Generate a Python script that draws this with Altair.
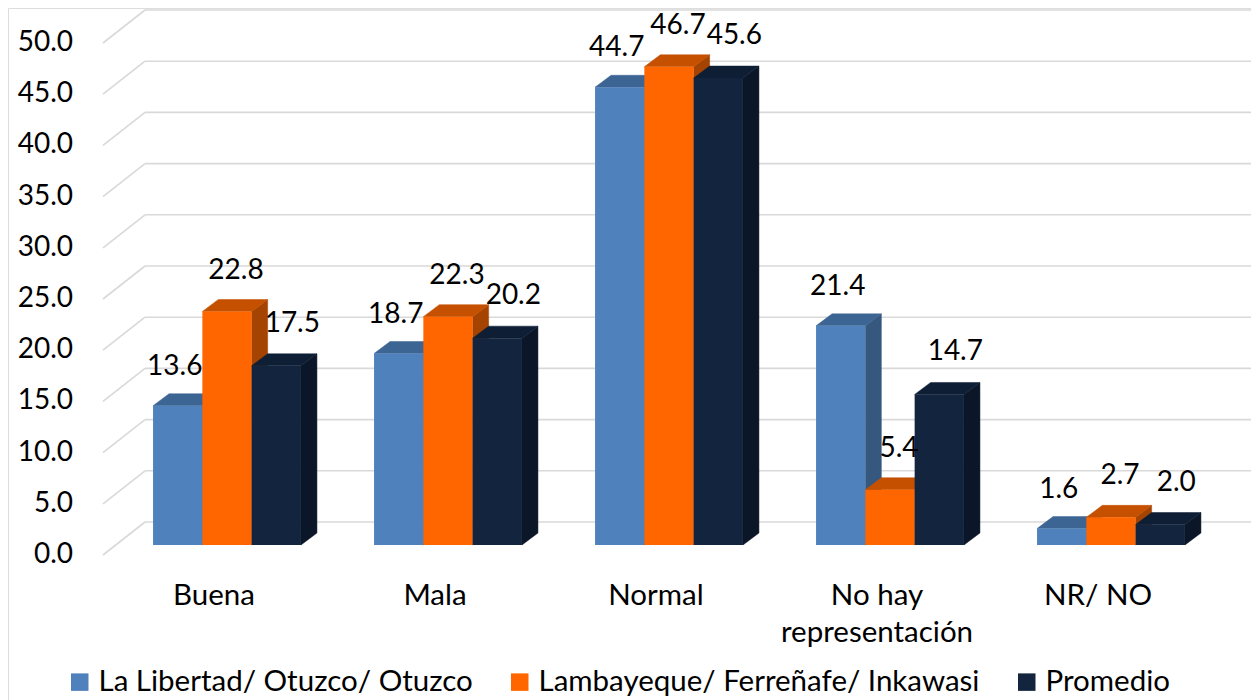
import altair as alt
import pandas as pd

# ---------------- data ----------------
categories = ["Buena", "Mala", "Normal", "No hay\nrepresentación", "NR/ NO"]
series = ["La Libertad/ Otuzco/ Otuzco", "Lambayeque/ Ferreñafe/ Inkawasi", "Promedio"]
la_libertad = [13.6, 18.7, 44.7, 21.4, 1.6]
lambayeque = [22.8, 22.3, 46.7, 5.4, 2.7]
promedio = [17.5, 20.2, 45.6, 14.7, 2.0]
y_ticks = [0, 5, 10, 15, 20, 25, 30, 35, 40, 45, 50]

values = [la_libertad, lambayeque, promedio]

front_colors = ["#4F81BD", "#FF6600", "#12243E"]
top_colors = ["#3D6594", "#C55000", "#0E1E34"]
side_colors = ["#36587F", "#A54300", "#0B1628"]

FONT = "Lato"
FS_NUM = 28
FS_TXT = 29.5

# ---------------- geometry (pixels -> scale units) ----------------
W, H = 1243, 692
PX_PER_VAL = 10.24
PX_PER_SLOT = 221.0
ZERO_Y = 545 - 8          # plot-relative pixel row of value 0 (bar plane)
GROUP0_X = 227 - 8        # plot-relative pixel column of first group centre

x_lo = -GROUP0_X / PX_PER_SLOT
x_hi = (W - GROUP0_X) / PX_PER_SLOT
y_hi = ZERO_Y / PX_PER_VAL
y_lo = (ZERO_Y - H) / PX_PER_VAL


def px_x(p):
    return p / PX_PER_SLOT


def px_y(p):
    return p / PX_PER_VAL


BAR_W = px_x(49.3)
DX = px_x(16)
DY = px_y(12)

GRID_BACK_DY = px_y(23)
GRID_FRONT_DY = px_y(-10)
GRID_BACK_X0 = px_x(145 - 227)
GRID_BACK_X1 = px_x(1253 - 227)
GRID_FRONT_X = px_x(103 - 227)
TICK_X = px_x(73 - 227)
CAT_DX = px_x(-13)
CAT_Y = px_y(545 - 605)
LABEL_OFF = [(px_x(-3), px_y(39)), (px_x(9), px_y(41)), (px_x(16), px_y(42))]

xs = alt.Scale(domain=[x_lo, x_hi], nice=False, zero=False)
ys = alt.Scale(domain=[y_lo, y_hi], nice=False, zero=False)


def X(f):
    return alt.X(f, type="quantitative", scale=xs, axis=None)


def Y(f):
    return alt.Y(f, type="quantitative", scale=ys, axis=None)


# ---------------- tables ----------------
fronts, tops, sides, labels = [], [], [], []
for j, s in enumerate(series):
    for i, c in enumerate(categories):
        v = values[j][i]
        x0 = i - 1.5 * BAR_W + j * BAR_W
        x1 = x0 + BAR_W
        bid = f"{j}-{i}"
        fronts.append(dict(series=s, j=j, x0=x0, x1=x1, y0=0.0, y1=v))
        tops.append(dict(j=j, bar=bid, ty=v, xa=x0, xb=x1))
        tops.append(dict(j=j, bar=bid, ty=v + DY, xa=x0 + DX, xb=x1 + DX))
        sides.append(dict(j=j, bar=bid, sx=x1, ya=v, yb=0.0))
        sides.append(dict(j=j, bar=bid, sx=x1 + DX, ya=v + DY, yb=DY))
        ox, oy = LABEL_OFF[j]
        labels.append(dict(lx=(x0 + x1) / 2 + ox, ly=v + oy, txt=f"{v:.1f}"))

fronts = pd.DataFrame(fronts)
tops = pd.DataFrame(tops)
sides = pd.DataFrame(sides)
labels = pd.DataFrame(labels)

grid = pd.DataFrame({
    "v": y_ticks,
    "gb": [t + GRID_BACK_DY for t in y_ticks],
    "gf": [t + GRID_FRONT_DY for t in y_ticks],
    "bx0": GRID_BACK_X0,
    "bx1": GRID_BACK_X1,
    "fx": GRID_FRONT_X,
    "tx": TICK_X,
})

cats = pd.DataFrame({
    "cat": categories,
    "cx": [i + CAT_DX for i in range(len(categories))],
    "cy": CAT_Y,
})

GRID_COLOR = "#D9D9D9"

back_grid = alt.Chart(grid).mark_rule(color=GRID_COLOR, strokeWidth=1.6).encode(
    x=X("bx0"), x2="bx1", y=Y("gb"))
front_grid = alt.Chart(grid).mark_rule(color=GRID_COLOR, strokeWidth=1.6).encode(
    x=X("fx"), x2="bx0", y=Y("gf"), y2="gb")
tick_text = alt.Chart(grid).mark_text(
    font=FONT, fontSize=FS_NUM, align="right", baseline="middle", color="#000000"
).encode(x=X("tx"), y=Y("gf"), text=alt.Text("v:Q", format=".1f"))

color = alt.Color(
    "series:N",
    scale=alt.Scale(domain=series, range=front_colors),
    legend=alt.Legend(
        title=None, orient="none", direction="horizontal", columns=3,
        legendX=57, legendY=659, padding=0,
        symbolType="square", symbolSize=306, symbolStrokeWidth=0, symbolOpacity=1,
        labelFont=FONT, labelFontSize=FS_TXT, labelColor="#000000", labelLimit=0,
        labelOffset=4, columnPadding=32,
    ),
)

bar_layers = []
for j in range(3):
    side = alt.Chart(sides[sides.j == j]).mark_area(
        orient="vertical", color=side_colors[j], interpolate="linear",
        stroke=side_colors[j], strokeWidth=0.5
    ).encode(x=X("sx"), y=Y("ya"), y2="yb", detail="bar:N")
    top = alt.Chart(tops[tops.j == j]).mark_area(
        orient="horizontal", color=top_colors[j], interpolate="linear",
        stroke=top_colors[j], strokeWidth=0.5
    ).encode(y=Y("ty"), x=X("xa"), x2="xb", detail="bar:N")
    front = alt.Chart(fronts[fronts.j == j]).mark_rect(strokeWidth=0).encode(
        x=X("x0"), x2="x1", y=Y("y0"), y2="y1", color=color)
    bar_layers += [side, top, front]

value_text = alt.Chart(labels).mark_text(
    font=FONT, fontSize=FS_NUM, align="center", baseline="middle", color="#000000"
).encode(x=X("lx"), y=Y("ly"), text="txt:N")

cat_text = alt.Chart(cats).mark_text(
    font=FONT, fontSize=FS_TXT, align="center", baseline="alphabetic",
    lineBreak="\n", lineHeight=37, color="#000000"
).encode(x=X("cx"), y=Y("cy"), text="cat:N")

chart = alt.layer(
    back_grid, front_grid, tick_text, *bar_layers, value_text, cat_text
).properties(
    width=W, height=H, autosize="none", padding=0
).configure_view(stroke=None).configure(background="#FFFFFF")

chart.save("out.html", embed_options={"renderer": "svg", "actions": False})
